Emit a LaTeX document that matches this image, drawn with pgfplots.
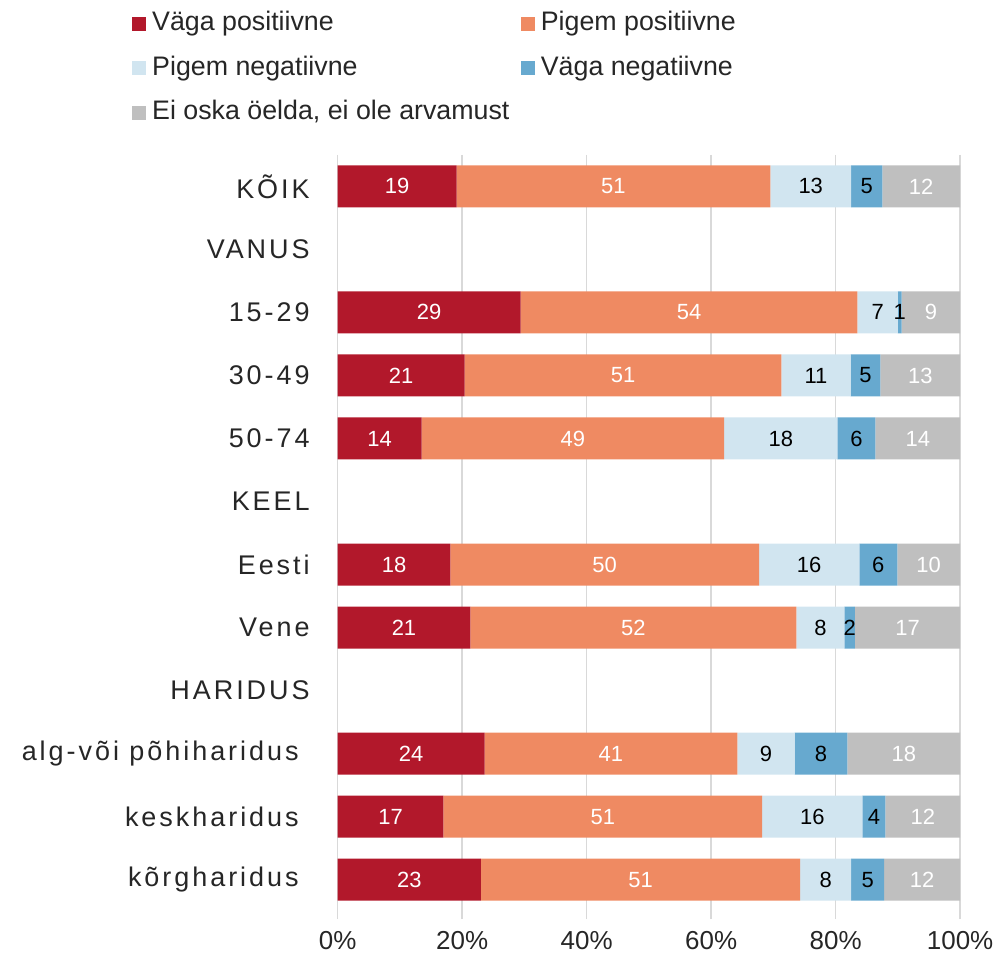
\documentclass[border=0pt]{standalone}
\usepackage{fontspec}
\setmainfont{Liberation Sans}
\newfontfamily\catfont[LetterSpace=11]{Liberation Sans}
\usepackage{pgfplots}
\usepackage{pgfplotstable}
\pgfplotsset{compat=1.18}
\definecolor{cRed}{RGB}{178,24,43}
\definecolor{cOra}{RGB}{239,138,98}
\definecolor{cLbl}{RGB}{209,229,240}
\definecolor{cBlu}{RGB}{103,169,207}
\definecolor{cGry}{RGB}{191,191,191}
\definecolor{gridc}{RGB}{217,217,217}
\definecolor{txt}{RGB}{38,38,38}

% shares in %, labels as printed
\pgfplotstableread{
y  r    o    nl   bn   g    Lr Lo Lnl Lbn Lg
0  19.1 50.4 13.0 5.0  12.5 19 51 13  5   12
2  29.4 54.1 6.5  0.6  9.4  29 54 7   1   9
3  20.4 50.9 11.1 4.8  12.8 21 51 11  5   13
4  13.5 48.6 18.2 6.1  13.6 14 49 18  6   14
6  18.1 49.6 16.1 6.1  10.1 18 50 16  6   10
7  21.3 52.4 7.7  1.7  16.9 21 52 8   2   17
9  23.6 40.6 9.2  8.5  18.1 24 41 9   8   18
10 17.0 51.2 16.1 3.7  12.0 17 51 16  4   12
11 23.0 51.3 8.2  5.3  12.2 23 51 8   5   12
}\survey

\pgfplotsset{
  frame/.style={scale only axis, width=311.5pt, height=378.5pt,
    xmin=0, xmax=100, ymin=-0.5, ymax=11.5, y dir=reverse},
  lab/.style={draw=none, mark=none, only marks, nodes near coords,
    point meta=explicit symbolic,
    nodes near coords style={anchor=center, text=#1, font=\fontsize{11}{13}\selectfont}},
}
\newcommand{\legtxt}[1]{\hspace*{2pt}\makebox[183.5pt][l]{#1}}

\begin{document}
\begin{tikzpicture}
\begin{axis}[frame,
  xbar stacked, bar width=21pt,
  xtick={0,20,...,100}, xticklabels={0\%,20\%,40\%,60\%,80\%,100\%},
  ytick={0,...,11},
  yticklabels={KÕIK,VANUS,15-29,30-49,50-74,KEEL,Eesti,Vene,HARIDUS,alg-või põhiharidus\hspace*{5.5pt},keskharidus\hspace*{5.5pt},kõrgharidus\hspace*{5.5pt}},
  xmajorgrids, grid style={draw=gridc, line width=0.8pt},
  axis line style={draw=none},
  xtick pos=bottom, tick align=outside, major tick length=4pt,
  xtick style={draw=gridc, line width=0.8pt},
  ytick style={draw=none},
  xticklabel style={font=\fontsize{13}{15}\selectfont, text=txt, yshift=-2.5pt},
  yticklabel style={font=\catfont\fontsize{13.5}{16}\selectfont, text=txt, xshift=-6.5pt},
  legend columns=2, legend cell align=left,
  legend image code/.code={\fill[#1] (0pt,-3.5pt) rectangle (7pt,3.5pt);},
  legend style={at={(-0.3307,1.1936)}, anchor=north west, draw=none, fill=none,
    inner sep=0pt, row sep=7.25pt, text=txt, font=\fontsize{13.4}{15}\selectfont,
    nodes={inner sep=1pt, text height=10pt, text depth=3pt}},
  clip=false,
]
\addplot[fill=cRed, draw=none] table[x=r, y=y]{\survey};
\addlegendentry{\legtxt{Väga positiivne}}
\addplot[fill=cOra, draw=none] table[x=o, y=y]{\survey};
\addlegendentry{\legtxt{Pigem positiivne}}
\addplot[fill=cLbl, draw=none] table[x=nl, y=y]{\survey};
\addlegendentry{\legtxt{Pigem negatiivne}}
\addplot[fill=cBlu, draw=none] table[x=bn, y=y]{\survey};
\addlegendentry{\legtxt{Väga negatiivne}}
\addplot[fill=cGry, draw=none] table[x=g, y=y]{\survey};
\addlegendentry{\legtxt{Ei oska öelda, ei ole arvamust}}
\end{axis}
% value labels, centred in each segment
\begin{axis}[frame, hide axis, clip=false]
\addplot[lab=white] table[x expr=\thisrow{r}/2, y=y, meta=Lr]{\survey};
\addplot[lab=white] table[x expr=\thisrow{r}+\thisrow{o}/2, y=y, meta=Lo]{\survey};
\addplot[lab=black] table[x expr=\thisrow{r}+\thisrow{o}+\thisrow{nl}/2, y=y, meta=Lnl]{\survey};
\addplot[lab=black] table[x expr=\thisrow{r}+\thisrow{o}+\thisrow{nl}+\thisrow{bn}/2, y=y, meta=Lbn]{\survey};
\addplot[lab=white] table[x expr=100-\thisrow{g}/2, y=y, meta=Lg]{\survey};
\end{axis}
\path ([xshift=-169pt,yshift=-21.5pt]current axis.south west) rectangle ([xshift=19.5pt,yshift=77.5pt]current axis.north east);
\end{tikzpicture}
\end{document}
